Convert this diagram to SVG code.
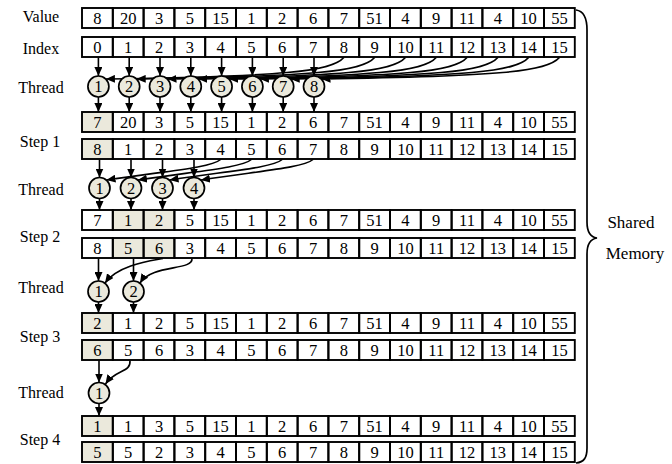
<svg xmlns="http://www.w3.org/2000/svg" xmlns:xlink="http://www.w3.org/1999/xlink" width="672" height="464" viewBox="0 0 672 464">
<style>
text{font-family:"Liberation Serif","Times New Roman",serif;font-size:16.5px;fill:#000}
.lbl{text-anchor:middle;font-size:16px}
.num{text-anchor:middle}
.cell{fill:none;stroke:#000;stroke-width:1.9}
.sh{fill:#ebe9dc}
.th circle{fill:#ebe9dc;stroke:#000;stroke-width:1.7}
.con path{fill:none;stroke:#000;stroke-width:1.6;marker-end:url(#ah)}
.brace{fill:none;stroke:#000;stroke-width:1.7}
.side{text-anchor:middle;font-size:17px}
</style>
<defs>
<marker id="ah" markerUnits="userSpaceOnUse" markerWidth="9" markerHeight="8" refX="9" refY="4" orient="auto"><path d="M0,0 L9,4 L0,8 z" fill="#000"/></marker>
<g id="cells">
<rect class="cell" x="82" y="0" width="30.8" height="20"/><rect class="cell" x="112.8" y="0" width="30.8" height="20"/><rect class="cell" x="143.6" y="0" width="30.8" height="20"/><rect class="cell" x="174.4" y="0" width="30.8" height="20"/><rect class="cell" x="205.2" y="0" width="30.8" height="20"/><rect class="cell" x="236" y="0" width="30.8" height="20"/><rect class="cell" x="266.8" y="0" width="30.8" height="20"/><rect class="cell" x="297.6" y="0" width="30.8" height="20"/><rect class="cell" x="328.4" y="0" width="30.8" height="20"/><rect class="cell" x="359.2" y="0" width="30.8" height="20"/><rect class="cell" x="390" y="0" width="30.8" height="20"/><rect class="cell" x="420.8" y="0" width="30.8" height="20"/><rect class="cell" x="451.6" y="0" width="30.8" height="20"/><rect class="cell" x="482.4" y="0" width="30.8" height="20"/><rect class="cell" x="513.2" y="0" width="30.8" height="20"/><rect class="cell" x="544" y="0" width="30.8" height="20"/>
</g>
</defs>

<g id="labels">
<text class="lbl" x="41" y="22">Value</text>
<text class="lbl" x="41" y="53.5">Index</text>
<text class="lbl" x="41" y="93">Thread</text>
<text class="lbl" x="40" y="147">Step 1</text>
<text class="lbl" x="41" y="195">Thread</text>
<text class="lbl" x="40" y="242">Step 2</text>
<text class="lbl" x="41" y="293">Thread</text>
<text class="lbl" x="40" y="342">Step 3</text>
<text class="lbl" x="41" y="398">Thread</text>
<text class="lbl" x="40" y="445">Step 4</text>
</g>

<g id="shading">
<rect class="sh" x="82" y="112" width="30.8" height="20"/>
<rect class="sh" x="82" y="139" width="30.8" height="20"/>
<rect class="sh" x="112.8" y="210" width="61.6" height="20"/>
<rect class="sh" x="112.8" y="238" width="61.6" height="20"/>
<rect class="sh" x="82" y="313" width="30.8" height="20"/>
<rect class="sh" x="82" y="340" width="30.8" height="20"/>
<rect class="sh" x="82" y="416" width="30.8" height="20"/>
<rect class="sh" x="82" y="442" width="30.8" height="20"/>
</g>

<g id="row-value"><use xlink:href="#cells" y="8"/>
<text class="num" y="24"><tspan x="97.4">8</tspan><tspan x="128.2">20</tspan><tspan x="159">3</tspan><tspan x="189.8">5</tspan><tspan x="220.6">15</tspan><tspan x="251.4">1</tspan><tspan x="282.2">2</tspan><tspan x="313">6</tspan><tspan x="343.8">7</tspan><tspan x="374.6">51</tspan><tspan x="405.4">4</tspan><tspan x="436.2">9</tspan><tspan x="467">11</tspan><tspan x="497.8">4</tspan><tspan x="528.6">10</tspan><tspan x="559.4">55</tspan></text></g>

<g id="row-index"><use xlink:href="#cells" y="37"/>
<text class="num" y="53"><tspan x="97.4">0</tspan><tspan x="128.2">1</tspan><tspan x="159">2</tspan><tspan x="189.8">3</tspan><tspan x="220.6">4</tspan><tspan x="251.4">5</tspan><tspan x="282.2">6</tspan><tspan x="313">7</tspan><tspan x="343.8">8</tspan><tspan x="374.6">9</tspan><tspan x="405.4">10</tspan><tspan x="436.2">11</tspan><tspan x="467">12</tspan><tspan x="497.8">13</tspan><tspan x="528.6">14</tspan><tspan x="559.4">15</tspan></text></g>

<g id="row-s1a"><use xlink:href="#cells" y="112"/>
<text class="num" y="128"><tspan x="97.4">7</tspan><tspan x="128.2">20</tspan><tspan x="159">3</tspan><tspan x="189.8">5</tspan><tspan x="220.6">15</tspan><tspan x="251.4">1</tspan><tspan x="282.2">2</tspan><tspan x="313">6</tspan><tspan x="343.8">7</tspan><tspan x="374.6">51</tspan><tspan x="405.4">4</tspan><tspan x="436.2">9</tspan><tspan x="467">11</tspan><tspan x="497.8">4</tspan><tspan x="528.6">10</tspan><tspan x="559.4">55</tspan></text></g>

<g id="row-s1b"><use xlink:href="#cells" y="139"/>
<text class="num" y="155"><tspan x="97.4">8</tspan><tspan x="128.2">1</tspan><tspan x="159">2</tspan><tspan x="189.8">3</tspan><tspan x="220.6">4</tspan><tspan x="251.4">5</tspan><tspan x="282.2">6</tspan><tspan x="313">7</tspan><tspan x="343.8">8</tspan><tspan x="374.6">9</tspan><tspan x="405.4">10</tspan><tspan x="436.2">11</tspan><tspan x="467">12</tspan><tspan x="497.8">13</tspan><tspan x="528.6">14</tspan><tspan x="559.4">15</tspan></text></g>

<g id="row-s2a"><use xlink:href="#cells" y="210"/>
<text class="num" y="226"><tspan x="97.4">7</tspan><tspan x="128.2">1</tspan><tspan x="159">2</tspan><tspan x="189.8">5</tspan><tspan x="220.6">15</tspan><tspan x="251.4">1</tspan><tspan x="282.2">2</tspan><tspan x="313">6</tspan><tspan x="343.8">7</tspan><tspan x="374.6">51</tspan><tspan x="405.4">4</tspan><tspan x="436.2">9</tspan><tspan x="467">11</tspan><tspan x="497.8">4</tspan><tspan x="528.6">10</tspan><tspan x="559.4">55</tspan></text></g>

<g id="row-s2b"><use xlink:href="#cells" y="238"/>
<text class="num" y="254"><tspan x="97.4">8</tspan><tspan x="128.2">5</tspan><tspan x="159">6</tspan><tspan x="189.8">3</tspan><tspan x="220.6">4</tspan><tspan x="251.4">5</tspan><tspan x="282.2">6</tspan><tspan x="313">7</tspan><tspan x="343.8">8</tspan><tspan x="374.6">9</tspan><tspan x="405.4">10</tspan><tspan x="436.2">11</tspan><tspan x="467">12</tspan><tspan x="497.8">13</tspan><tspan x="528.6">14</tspan><tspan x="559.4">15</tspan></text></g>

<g id="row-s3a"><use xlink:href="#cells" y="313"/>
<text class="num" y="329"><tspan x="97.4">2</tspan><tspan x="128.2">1</tspan><tspan x="159">2</tspan><tspan x="189.8">5</tspan><tspan x="220.6">15</tspan><tspan x="251.4">1</tspan><tspan x="282.2">2</tspan><tspan x="313">6</tspan><tspan x="343.8">7</tspan><tspan x="374.6">51</tspan><tspan x="405.4">4</tspan><tspan x="436.2">9</tspan><tspan x="467">11</tspan><tspan x="497.8">4</tspan><tspan x="528.6">10</tspan><tspan x="559.4">55</tspan></text></g>

<g id="row-s3b"><use xlink:href="#cells" y="340"/>
<text class="num" y="356"><tspan x="97.4">6</tspan><tspan x="128.2">5</tspan><tspan x="159">6</tspan><tspan x="189.8">3</tspan><tspan x="220.6">4</tspan><tspan x="251.4">5</tspan><tspan x="282.2">6</tspan><tspan x="313">7</tspan><tspan x="343.8">8</tspan><tspan x="374.6">9</tspan><tspan x="405.4">10</tspan><tspan x="436.2">11</tspan><tspan x="467">12</tspan><tspan x="497.8">13</tspan><tspan x="528.6">14</tspan><tspan x="559.4">15</tspan></text></g>

<g id="row-s4a"><use xlink:href="#cells" y="416"/>
<text class="num" y="432"><tspan x="97.4">1</tspan><tspan x="128.2">1</tspan><tspan x="159">3</tspan><tspan x="189.8">5</tspan><tspan x="220.6">15</tspan><tspan x="251.4">1</tspan><tspan x="282.2">2</tspan><tspan x="313">6</tspan><tspan x="343.8">7</tspan><tspan x="374.6">51</tspan><tspan x="405.4">4</tspan><tspan x="436.2">9</tspan><tspan x="467">11</tspan><tspan x="497.8">4</tspan><tspan x="528.6">10</tspan><tspan x="559.4">55</tspan></text></g>

<g id="row-s4b"><use xlink:href="#cells" y="442"/>
<text class="num" y="458"><tspan x="97.4">5</tspan><tspan x="128.2">5</tspan><tspan x="159">2</tspan><tspan x="189.8">3</tspan><tspan x="220.6">4</tspan><tspan x="251.4">5</tspan><tspan x="282.2">6</tspan><tspan x="313">7</tspan><tspan x="343.8">8</tspan><tspan x="374.6">9</tspan><tspan x="405.4">10</tspan><tspan x="436.2">11</tspan><tspan x="467">12</tspan><tspan x="497.8">13</tspan><tspan x="528.6">14</tspan><tspan x="559.4">15</tspan></text></g>

<g id="connectors" class="con">
<path d="M98.4,57.5 V76"/><path d="M129.2,57.5 V76"/><path d="M160,57.5 V76"/><path d="M190.8,57.5 V76"/><path d="M221.6,57.5 V76"/><path d="M252.4,57.5 V76"/><path d="M283.2,57.5 V76"/><path d="M314,57.5 V76"/>
<path d="M343.8,57.5 C331.8,71.5 283.8,76.5 105.9,79"/>
<path d="M374.6,57.5 C362.6,71.5 314.6,76.5 136.7,79"/>
<path d="M405.4,57.5 C393.4,71.5 345.4,76.5 167.5,79"/>
<path d="M436.2,57.5 C424.2,71.5 376.2,76.5 198.3,79"/>
<path d="M467,57.5 C455,71.5 407,76.5 229.1,79"/>
<path d="M497.8,57.5 C485.8,71.5 437.8,76.5 259.9,79"/>
<path d="M528.6,57.5 C516.6,71.5 468.6,76.5 290.7,79"/>
<path d="M559.4,57.5 C547.4,71.5 499.4,76.5 321.5,79"/>
<path d="M98.4,97 V112"/><path d="M129.2,97 V112"/><path d="M160,97 V112"/><path d="M190.8,97 V112"/><path d="M221.6,97 V112"/><path d="M252.4,97 V112"/><path d="M283.2,97 V112"/><path d="M314,97 V112"/>
<path d="M99.5,159.5 V177.5"/><path d="M131,159.5 V177.5"/><path d="M162.5,159.5 V177.5"/><path d="M194,159.5 V177.5"/>
<path d="M220.6,159.5 C210.6,168 165.6,171 106.5,180"/>
<path d="M251.4,159.5 C241.4,168 196.4,171 138,180"/>
<path d="M282.2,159.5 C272.2,168 227.2,171 169.5,180"/>
<path d="M313,159.5 C303,168 258,171 201,180"/>
<path d="M99.5,198.5 V210"/><path d="M131,198.5 V210"/><path d="M162.5,198.5 V210"/><path d="M194,198.5 V210"/>
<path d="M98.5,258.5 V281"/><path d="M133.5,258.5 V281"/>
<path d="M163,258.5 C150,261 118,265 105,283"/>
<path d="M192,258.5 C193,271 152,264 140,283"/>
<path d="M98.5,302 V313"/><path d="M133.5,302 V313"/>
<path d="M99,360.5 V382.5"/>
<path d="M130,360.5 C131,373 116,369 105.5,384"/>
<path d="M99,403.5 V416"/>
</g>

<g id="thread-r1" class="th">
<circle cx="98.4" cy="86.5" r="10.5"/><circle cx="129.2" cy="86.5" r="10.5"/><circle cx="160" cy="86.5" r="10.5"/><circle cx="190.8" cy="86.5" r="10.5"/><circle cx="221.6" cy="86.5" r="10.5"/><circle cx="252.4" cy="86.5" r="10.5"/><circle cx="283.2" cy="86.5" r="10.5"/><circle cx="314" cy="86.5" r="10.5"/>
<text class="num" y="92"><tspan x="98.4">1</tspan><tspan x="129.2">2</tspan><tspan x="160">3</tspan><tspan x="190.8">4</tspan><tspan x="221.6">5</tspan><tspan x="252.4">6</tspan><tspan x="283.2">7</tspan><tspan x="314">8</tspan></text>
</g>
<g id="thread-r2" class="th">
<circle cx="99.5" cy="188" r="10.5"/><circle cx="131" cy="188" r="10.5"/><circle cx="162.5" cy="188" r="10.5"/><circle cx="194" cy="188" r="10.5"/>
<text class="num" y="193.5"><tspan x="99.5">1</tspan><tspan x="131">2</tspan><tspan x="162.5">3</tspan><tspan x="194">4</tspan></text>
</g>
<g id="thread-r3" class="th">
<circle cx="98.5" cy="291.5" r="10.5"/><circle cx="133.5" cy="291.5" r="10.5"/>
<text class="num" y="297"><tspan x="98.5">1</tspan><tspan x="133.5">2</tspan></text>
</g>
<g id="thread-r4" class="th">
<circle cx="99" cy="393" r="10.5"/>
<text class="num" y="398.5"><tspan x="99">1</tspan></text>
</g>

<g id="shared-memory">
<path class="brace" d="M576,10 C584,11 587,18 587,30 L587,222 C587,232 590,237 597,238 C590,239 587,244 587,254 L587,448 C587,458 584,462 576,463"/>
<text class="side" x="631" y="228">Shared</text>
<text class="side" x="635" y="259">Memory</text>
</g>
</svg>
